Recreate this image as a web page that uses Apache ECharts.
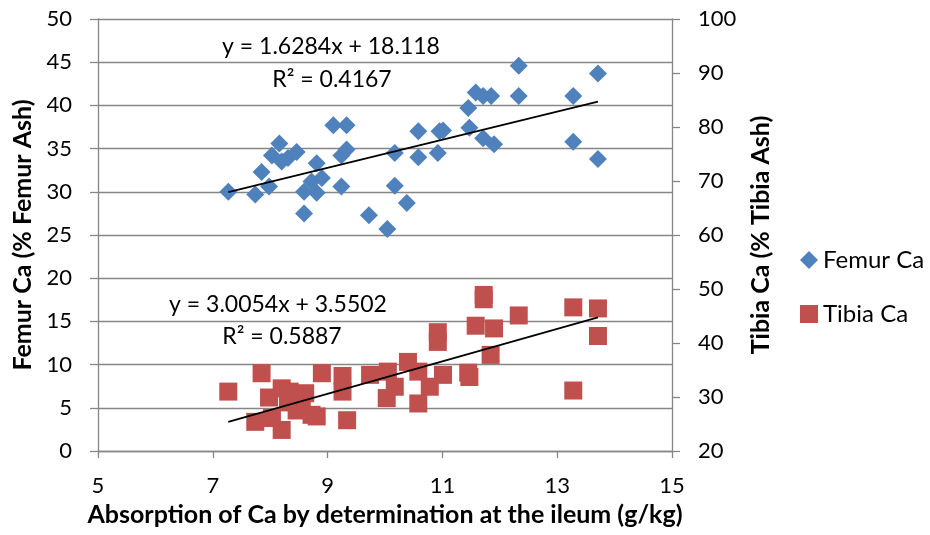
<!DOCTYPE html>
<html>
<head>
<meta charset="utf-8">
<script src="https://cdn.jsdelivr.net/npm/echarts@6/dist/echarts.min.js"></script>
<style>html,body{margin:0;padding:0;background:#fff}#c{width:930px;height:535px}</style>
</head>
<body>
<div id="c"></div>
<script>
// Femur Ca (% Femur Ash) vs Ca absorption, left axis
const femurData = [
  [7.27,30.0],[7.74,29.7],[7.85,32.3],[7.98,30.6],[8.03,34.2],[8.16,35.6],[8.20,33.5],[8.31,33.9],
  [8.46,34.6],[8.59,30.0],[8.59,27.5],[8.72,31.2],[8.81,33.3],[8.81,29.9],[8.90,31.6],[9.10,37.7],
  [9.33,37.7],[9.24,30.6],[9.24,34.2],[9.33,34.9],[9.72,27.3],[10.04,25.7],[10.17,30.7],[10.17,34.5],
  [10.38,28.7],[10.58,37.0],[10.58,34.0],[10.92,34.5],[10.95,37.0],[11.01,37.1],[11.45,39.7],[11.47,37.4],
  [11.58,41.5],[11.71,41.1],[11.85,41.1],[11.71,36.2],[11.90,35.5],[12.33,44.6],[12.33,41.1],[13.28,41.1],
  [13.28,35.8],[13.71,43.7],[13.71,33.8]
];
// Tibia Ca (% Tibia Ash), right axis
const tibiaData = [
  [7.27,31.0],[7.74,25.4],[7.85,34.4],[7.98,29.9],[8.03,26.1],[8.20,31.6],[8.20,23.9],[8.31,29.0],
  [8.34,31.0],[8.46,27.5],[8.55,28.2],[8.61,30.7],[8.72,26.7],[8.81,26.4],[8.90,34.4],[9.26,33.9],
  [9.26,31.0],[9.34,25.7],[9.74,34.1],[10.03,29.8],[10.05,34.7],[10.17,31.9],[10.40,36.5],[10.58,34.7],
  [10.58,28.8],[10.78,31.9],[10.92,42.0],[10.92,40.2],[11.01,34.1],[11.45,34.5],[11.47,33.7],[11.58,43.2],
  [11.72,48.9],[11.72,48.1],[11.84,37.8],[11.90,42.7],[12.33,45.1],[13.28,46.6],[13.28,31.2],[13.71,46.4],
  [13.71,41.3]
];
const femurFit = {slope: 1.6284, intercept: 18.118, r2: '0.4167'};
const tibiaFit = {slope: 3.0054, intercept: 3.5502, r2: '0.5887'};
const xTicks = [5, 7, 9, 11, 13, 15];
const leftTicks = {min: 0, max: 50, step: 5};
const rightTicks = {min: 20, max: 100, step: 10};
const seriesNames = ['Femur Ca', 'Tibia Ca'];
const axisTitles = {
  x: 'Absorption of Ca by determination at the ileum (g/kg)',
  left: 'Femur Ca (% Femur Ash)',
  right: 'Tibia Ca (% Tibia Ash)'
};

function fitLine(data, fit) {
  const xs = data.map(d => d[0]);
  const a = Math.min(...xs), b = Math.max(...xs);
  return [[a, fit.slope * a + fit.intercept], [b, fit.slope * b + fit.intercept]];
}

const FONT = 'Lato';
const gray = '#868686';
const titleStyle = {fontFamily: FONT, fontSize: 25, fontWeight: 'bold', color: '#000'};
const chart = echarts.init(document.getElementById('c'), null, {renderer: 'canvas'});
chart.setOption({
  animation: false,
  textStyle: {fontFamily: FONT},
  grid: {left: 98, right: 258, top: 19, bottom: 84, containLabel: false},
  legend: {
    data: seriesNames,
    orient: 'vertical',
    left: 795, top: 243,
    itemWidth: 18, itemHeight: 18, itemGap: 30,
    textStyle: {fontFamily: FONT, fontSize: 24, color: '#000'}
  },
  xAxis: {
    type: 'value', min: xTicks[0], max: xTicks[xTicks.length - 1],
    name: axisTitles.x, nameLocation: 'middle', nameGap: 51,
    nameTextStyle: titleStyle,
    axisLine: {show: true, onZero: false, lineStyle: {color: gray, width: 1.3}},
    axisTick: {show: true, length: 7, customValues: xTicks, lineStyle: {color: gray, width: 1.3}},
    axisLabel: {customValues: xTicks, margin: 24, fontSize: 22, color: '#000', fontFamily: FONT},
    splitLine: {show: false}
  },
  yAxis: [{
    type: 'value', min: leftTicks.min, max: leftTicks.max, interval: leftTicks.step,
    name: axisTitles.left, nameLocation: 'middle', nameGap: 62, nameRotate: 90,
    nameTextStyle: titleStyle,
    axisLine: {show: true, lineStyle: {color: gray, width: 1.3}},
    axisTick: {show: true, length: 8, lineStyle: {color: gray, width: 1.3}},
    axisLabel: {margin: 26, fontSize: 22, color: '#000', fontFamily: FONT},
    splitLine: {show: true, lineStyle: {color: gray, width: 1.3}}
  }, {
    type: 'value', position: 'right', min: rightTicks.min, max: rightTicks.max, interval: rightTicks.step,
    name: axisTitles.right, nameLocation: 'middle', nameGap: 76, nameRotate: 90,
    nameTextStyle: titleStyle,
    axisLine: {show: true, lineStyle: {color: gray, width: 1.3}},
    axisTick: {show: true, length: 8, lineStyle: {color: gray, width: 1.3}},
    axisLabel: {margin: 26, fontSize: 22, color: '#000', fontFamily: FONT},
    splitLine: {show: false}
  }],
  series: [{
    name: seriesNames[0], type: 'scatter', yAxisIndex: 0, data: femurData,
    symbol: 'diamond', symbolSize: 18, itemStyle: {color: '#4F81BD', opacity: 1}, z: 3
  }, {
    name: seriesNames[1], type: 'scatter', yAxisIndex: 1, data: tibiaData,
    symbol: 'rect', symbolSize: 18, itemStyle: {color: '#C0504D', opacity: 1}, z: 3
  }, {
    name: 'femurTrend', type: 'line', yAxisIndex: 0, data: fitLine(femurData, femurFit),
    showSymbol: false, symbol: 'none', lineStyle: {color: '#000', width: 1.8}, z: 4, silent: true
  }, {
    name: 'tibiaTrend', type: 'line', yAxisIndex: 1, data: fitLine(tibiaData, tibiaFit),
    showSymbol: false, symbol: 'none', lineStyle: {color: '#000', width: 1.8}, z: 4, silent: true
  }],
  graphic: [
    {type: 'text', x: 331, y: 47, style: {text: 'y = ' + femurFit.slope + 'x + ' + femurFit.intercept, font: '23px ' + FONT, fill: '#000', align: 'center', verticalAlign: 'middle'}, z: 10},
    {type: 'text', x: 332, y: 80, style: {text: 'R² = ' + femurFit.r2, font: '23px ' + FONT, fill: '#000', align: 'center', verticalAlign: 'middle'}, z: 10},
    {type: 'text', x: 278, y: 305, style: {text: 'y = ' + tibiaFit.slope + 'x + ' + tibiaFit.intercept, font: '23px ' + FONT, fill: '#000', align: 'center', verticalAlign: 'middle'}, z: 10},
    {type: 'text', x: 282, y: 337, style: {text: 'R² = ' + tibiaFit.r2, font: '23px ' + FONT, fill: '#000', align: 'center', verticalAlign: 'middle'}, z: 10}
  ]
});
</script>
</body>
</html>
